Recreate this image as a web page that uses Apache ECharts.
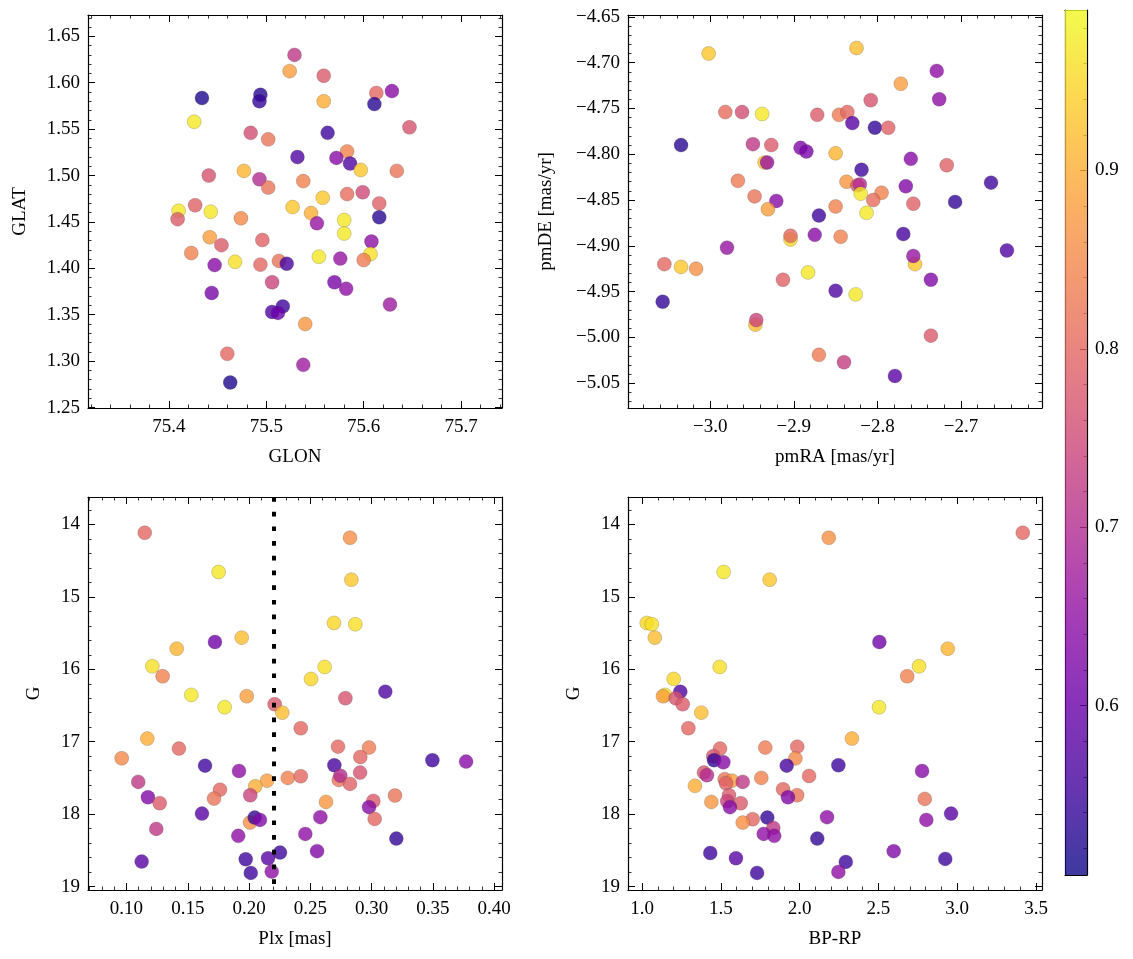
<!DOCTYPE html>
<html><head><meta charset="utf-8">
<script src="https://cdn.jsdelivr.net/npm/echarts@6/dist/echarts.min.js"></script>
<style>html,body{margin:0;padding:0;background:#fff}#c{width:1133px;height:959px}</style>
</head><body><div id="c"></div>
<script>
// ---- data: [x, y, membership probability] ----
const skyPos = [[75.529,1.630,0.72],[75.524,1.6125,0.88],[75.559,1.6075,0.78],[75.434,1.5835,0.52],[75.494,1.587,0.53],[75.493,1.580,0.54],[75.559,1.580,0.90],[75.613,1.589,0.80],[75.629,1.591,0.64],[75.611,1.577,0.53],[75.426,1.558,0.97],[75.484,1.546,0.76],[75.502,1.539,0.82],[75.563,1.546,0.55],[75.647,1.552,0.77],[75.532,1.520,0.57],[75.583,1.526,0.84],[75.572,1.519,0.64],[75.586,1.513,0.57],[75.597,1.506,0.93],[75.634,1.505,0.82],[75.477,1.505,0.91],[75.441,1.500,0.77],[75.493,1.496,0.70],[75.502,1.487,0.82],[75.538,1.494,0.84],[75.558,1.476,0.93],[75.583,1.480,0.81],[75.599,1.482,0.75],[75.616,1.470,0.79],[75.410,1.462,0.97],[75.427,1.468,0.79],[75.443,1.461,0.97],[75.409,1.453,0.78],[75.474,1.454,0.85],[75.527,1.466,0.93],[75.546,1.4595,0.90],[75.552,1.4485,0.66],[75.580,1.452,0.97],[75.616,1.455,0.53],[75.580,1.4375,0.97],[75.442,1.4335,0.88],[75.454,1.425,0.78],[75.496,1.4305,0.79],[75.608,1.429,0.65],[75.423,1.4165,0.84],[75.447,1.4035,0.64],[75.468,1.407,0.96],[75.494,1.404,0.80],[75.513,1.408,0.82],[75.521,1.405,0.56],[75.554,1.4125,0.97],[75.576,1.4105,0.66],[75.607,1.4155,0.96],[75.600,1.409,0.83],[75.506,1.385,0.74],[75.570,1.385,0.62],[75.582,1.378,0.65],[75.444,1.3735,0.62],[75.627,1.361,0.67],[75.517,1.359,0.55],[75.506,1.353,0.57],[75.512,1.352,0.60],[75.540,1.340,0.87],[75.460,1.308,0.80],[75.538,1.296,0.67],[75.463,1.277,0.52]];

const properMotion = [[-3.002,-4.690,0.93],[-2.825,-4.684,0.92],[-2.729,-4.709,0.65],[-2.772,-4.723,0.88],[-2.726,-4.740,0.65],[-2.808,-4.741,0.77],[-2.982,-4.754,0.81],[-2.962,-4.754,0.76],[-2.938,-4.756,0.97],[-2.872,-4.757,0.78],[-2.846,-4.757,0.83],[-2.836,-4.754,0.80],[-2.830,-4.766,0.58],[-2.803,-4.771,0.54],[-2.787,-4.771,0.79],[-3.035,-4.790,0.53],[-2.949,-4.789,0.72],[-2.927,-4.790,0.78],[-2.892,-4.793,0.63],[-2.885,-4.797,0.62],[-2.850,-4.799,0.91],[-2.935,-4.809,0.93],[-2.932,-4.809,0.66],[-2.760,-4.805,0.64],[-2.717,-4.812,0.79],[-2.819,-4.817,0.55],[-2.967,-4.829,0.83],[-2.837,-4.830,0.87],[-2.824,-4.834,0.78],[-2.821,-4.833,0.70],[-2.766,-4.835,0.63],[-2.664,-4.831,0.55],[-2.820,-4.843,0.97],[-2.795,-4.842,0.84],[-2.947,-4.846,0.82],[-2.921,-4.851,0.64],[-2.805,-4.850,0.81],[-2.757,-4.854,0.79],[-2.707,-4.852,0.54],[-2.931,-4.860,0.88],[-2.850,-4.857,0.84],[-2.813,-4.864,0.97],[-2.870,-4.867,0.55],[-2.904,-4.893,0.95],[-2.904,-4.889,0.80],[-2.875,-4.888,0.64],[-2.844,-4.890,0.84],[-2.769,-4.887,0.56],[-2.980,-4.902,0.66],[-2.645,-4.905,0.57],[-3.055,-4.920,0.80],[-3.035,-4.923,0.93],[-3.017,-4.925,0.86],[-2.755,-4.920,0.93],[-2.757,-4.911,0.66],[-2.913,-4.937,0.79],[-2.883,-4.929,0.97],[-2.736,-4.937,0.63],[-2.850,-4.949,0.57],[-2.826,-4.953,0.97],[-3.057,-4.961,0.54],[-2.946,-4.986,0.92],[-2.945,-4.981,0.74],[-2.736,-4.998,0.78],[-2.870,-5.019,0.83],[-2.840,-5.027,0.73],[-2.779,-5.042,0.58]];

const parallaxG = [[0.1149,14.116,0.80],[0.2824,14.185,0.86],[0.1752,14.658,0.97],[0.2835,14.764,0.93],[0.2693,15.361,0.95],[0.2867,15.379,0.96],[0.1722,15.623,0.61],[0.1940,15.564,0.92],[0.1410,15.716,0.91],[0.1211,15.959,0.96],[0.2617,15.968,0.96],[0.1295,16.097,0.84],[0.2506,16.134,0.95],[0.3112,16.309,0.57],[0.1529,16.354,0.97],[0.1981,16.372,0.88],[0.1801,16.524,0.97],[0.2786,16.400,0.77],[0.2209,16.483,0.78],[0.2271,16.599,0.92],[0.2422,16.814,0.80],[0.1170,16.957,0.90],[0.0961,17.228,0.85],[0.1428,17.095,0.80],[0.1641,17.330,0.55],[0.1918,17.403,0.65],[0.2726,17.068,0.80],[0.2979,17.081,0.83],[0.2908,17.210,0.80],[0.3496,17.255,0.55],[0.3771,17.274,0.64],[0.2696,17.324,0.56],[0.2732,17.527,0.82],[0.2745,17.468,0.70],[0.2824,17.582,0.79],[0.2906,17.426,0.77],[0.1096,17.554,0.72],[0.2147,17.537,0.88],[0.2051,17.614,0.90],[0.2316,17.499,0.84],[0.2422,17.476,0.80],[0.1763,17.661,0.80],[0.1714,17.785,0.82],[0.2010,17.738,0.74],[0.1175,17.766,0.63],[0.1271,17.848,0.78],[0.2628,17.830,0.87],[0.3014,17.817,0.78],[0.2979,17.903,0.64],[0.3191,17.743,0.82],[0.3025,18.065,0.80],[0.1616,17.992,0.58],[0.2008,18.116,0.86],[0.2046,18.047,0.54],[0.2089,18.079,0.63],[0.2582,18.041,0.65],[0.1243,18.203,0.72],[0.1912,18.299,0.65],[0.2459,18.272,0.65],[0.3202,18.337,0.54],[0.2555,18.510,0.63],[0.2253,18.530,0.55],[0.2155,18.607,0.58],[0.1973,18.621,0.55],[0.1124,18.654,0.58],[0.2014,18.810,0.55],[0.2185,18.792,0.65]];

const colourG = [[3.416,14.116,0.80],[2.185,14.185,0.86],[1.518,14.658,0.97],[1.810,14.764,0.93],[1.030,15.361,0.95],[1.062,15.379,0.96],[1.081,15.564,0.92],[2.506,15.623,0.61],[2.940,15.716,0.91],[2.758,15.959,0.96],[1.493,15.968,0.96],[2.683,16.097,0.84],[1.201,16.134,0.95],[1.243,16.309,0.57],[1.146,16.354,0.97],[1.133,16.372,0.88],[1.214,16.400,0.77],[1.258,16.483,0.78],[1.376,16.599,0.92],[2.504,16.524,0.97],[1.294,16.814,0.80],[2.332,16.957,0.90],[1.495,17.095,0.80],[1.452,17.200,0.77],[1.457,17.255,0.54],[1.516,17.283,0.64],[1.782,17.081,0.83],[1.985,17.068,0.80],[1.973,17.230,0.85],[1.918,17.330,0.56],[2.246,17.324,0.55],[2.777,17.403,0.64],[1.393,17.426,0.77],[1.412,17.462,0.70],[1.336,17.609,0.90],[1.525,17.517,0.82],[1.571,17.537,0.88],[1.533,17.572,0.79],[1.639,17.554,0.72],[1.757,17.499,0.84],[2.060,17.472,0.80],[1.895,17.655,0.80],[1.984,17.738,0.82],[1.926,17.766,0.63],[1.440,17.830,0.87],[1.552,17.738,0.78],[1.541,17.821,0.74],[1.626,17.848,0.78],[1.558,17.903,0.64],[2.794,17.789,0.82],[2.961,17.992,0.58],[2.804,18.079,0.65],[2.174,18.041,0.65],[1.795,18.047,0.54],[1.702,18.069,0.80],[1.639,18.116,0.86],[1.833,18.189,0.72],[1.772,18.272,0.65],[1.839,18.299,0.65],[2.112,18.337,0.54],[1.433,18.535,0.55],[2.597,18.510,0.63],[1.596,18.607,0.58],[2.293,18.658,0.55],[2.924,18.617,0.55],[1.730,18.810,0.55],[2.246,18.796,0.65]];

const plxCut = 0.219;
const probRange = [0.505, 0.99];
const colourbarTicks = [0.6, 0.7, 0.8, 0.9];
const plasma = ['#0d0887','#41049d','#6a00a8','#8f0da4','#b12a90','#cc4778','#e16462','#f2844b','#fca636','#fcce25','#f0f921'];

// ---- layout ----
const FONT = 'Liberation Serif';
const FS = 19;
const grids = [
  {left: 88, top: 15, width: 414, height: 393},
  {left: 628, top: 15, width: 414, height: 393},
  {left: 88, top: 497, width: 414, height: 393},
  {left: 628, top: 497, width: 414, height: 393},
  {left: 1065, top: 10, width: 22, height: 865}
];
const panels = [
  {data: skyPos, x: {min: 75.317, max: 75.742, split: 4, step: 0.1, dec: 1, name: 'GLON'}, y: {min: 1.2495, max: 1.673, split: 8, step: 0.05, dec: 2, name: 'GLAT', gap: 58}},
  {data: properMotion, x: {min: -3.0985, max: -2.603, split: 5, step: 0.1, dec: 1, name: 'pmRA [mas/yr]'}, y: {min: -5.077, max: -4.648, split: 8, step: 0.05, dec: 2, name: 'pmDE [mas/yr]', gap: 72}},
  {data: parallaxG, x: {min: 0.0686, max: 0.4064, split: 7, step: 0.05, dec: 2, name: 'Plx [mas]'}, y: {min: 13.623, max: 19.046, split: 5, step: 1, dec: 0, name: 'G', gap: 44, inverse: true}},
  {data: colourG, x: {min: 0.911, max: 3.538, split: 5, step: 0.5, dec: 1, name: 'BP-RP'}, y: {min: 13.623, max: 19.046, split: 5, step: 1, dec: 0, name: 'G', gap: 44, inverse: true}}
];

function fmt(step, dec) {
  return function (v) {
    const r = v / step;
    if (Math.abs(r - Math.round(r)) > 1e-6) return '';
    const s = v.toFixed(dec);
    return s.charAt(0) === '-' ? '\u2212' + s.slice(1) : s;
  };
}
function axis(kind, gi, spec, pos, main) {
  const a = {
    type: 'value', gridIndex: gi, position: pos, min: spec.min, max: spec.max,
    splitNumber: spec.split, inverse: !!spec.inverse, scale: true,
    axisLine: {show: true, onZero: false, lineStyle: {color: '#000', width: 1.2}},
    axisTick: {show: true, inside: true, length: 7, lineStyle: {color: '#000', width: 1}},
    minorTick: {show: true, splitNumber: 5, length: 3.5, lineStyle: {color: '#000', width: 0.8}},
    splitLine: {show: false}, minorSplitLine: {show: false},
    axisLabel: {show: main, margin: kind === 'x' ? 10 : 8, fontFamily: FONT, fontSize: FS, color: '#000',
      showMinLabel: false, showMaxLabel: false, formatter: fmt(spec.step, spec.dec)}
  };
  if (main) {
    a.name = spec.name; a.nameLocation = 'middle';
    a.nameGap = kind === 'x' ? 40 : spec.gap;
    a.nameTextStyle = {fontFamily: FONT, fontSize: FS, color: '#000'};
  }
  return a;
}

const xAxis = [], yAxis = [], series = [];
panels.forEach(function (p, i) {
  xAxis.push(axis('x', i, p.x, 'bottom', true));
  xAxis.push(axis('x', i, p.x, 'top', false));
  yAxis.push(axis('y', i, p.y, 'left', true));
  yAxis.push(axis('y', i, p.y, 'right', false));
  series.push({
    type: 'scatter', xAxisIndex: 2 * i, yAxisIndex: 2 * i, data: p.data,
    symbolSize: 14,
    itemStyle: {opacity: 0.8, borderColor: 'rgba(60,60,60,0.55)', borderWidth: 0.5}
  });
});
// colour bar grid
xAxis.push({type: 'category', gridIndex: 4, data: ['p'], position: 'bottom', boundaryGap: true,
  axisLine: {show: true, lineStyle: {color: '#000', width: 1.2}}, axisTick: {show: false}, axisLabel: {show: false}});
xAxis.push({type: 'category', gridIndex: 4, data: ['p'], position: 'top', boundaryGap: true,
  axisLine: {show: true, lineStyle: {color: '#000', width: 1.2}}, axisTick: {show: false}, axisLabel: {show: false}});
yAxis.push({type: 'value', gridIndex: 4, position: 'right', min: probRange[0], max: probRange[1], splitNumber: 5,
  axisLine: {show: true, lineStyle: {color: '#000', width: 1.2}},
  axisTick: {show: true, inside: true, length: 7, lineStyle: {color: '#000', width: 1}},
  minorTick: {show: true, splitNumber: 5, length: 3.5, lineStyle: {color: '#000', width: 0.8}},
  splitLine: {show: false},
  axisLabel: {show: true, margin: 8, fontFamily: FONT, fontSize: FS, color: '#000', showMinLabel: false, showMaxLabel: false,
    formatter: function (v) { return colourbarTicks.some(function (t) { return Math.abs(t - v) < 1e-6; }) ? v.toFixed(1) : ''; }}});
yAxis.push({type: 'value', gridIndex: 4, position: 'left', min: probRange[0], max: probRange[1],
  axisLine: {show: true, lineStyle: {color: '#000', width: 1.2}}, axisTick: {show: false}, axisLabel: {show: false}, splitLine: {show: false}});

const stops = plasma.map(function (c, k) { return {offset: k / (plasma.length - 1), color: c}; });
series.push({
  type: 'bar', xAxisIndex: 8, yAxisIndex: 8, data: [probRange[1]], barWidth: '100%', silent: true,
  itemStyle: {opacity: 0.8, color: new echarts.graphic.LinearGradient(0, 1, 0, 0, stops)}
});
// parallax cut line
series.push({
  type: 'line', xAxisIndex: 4, yAxisIndex: 4, data: [], z: 10,
  markLine: {silent: true, symbol: ['none', 'none'], label: {show: false}, animation: false,
    lineStyle: {color: '#000', width: 4, type: [4.7, 10], cap: 'butt'},
    data: [{xAxis: plxCut}]}
});

const chart = echarts.init(document.getElementById('c'), null, {renderer: 'canvas'});
chart.setOption({
  animation: false,
  backgroundColor: '#fff',
  grid: grids,
  xAxis: xAxis, yAxis: yAxis,
  visualMap: {type: 'continuous', show: false, min: probRange[0], max: probRange[1], dimension: 2,
    seriesIndex: [0, 1, 2, 3], inRange: {color: plasma}},
  series: series
});
</script></body></html>
